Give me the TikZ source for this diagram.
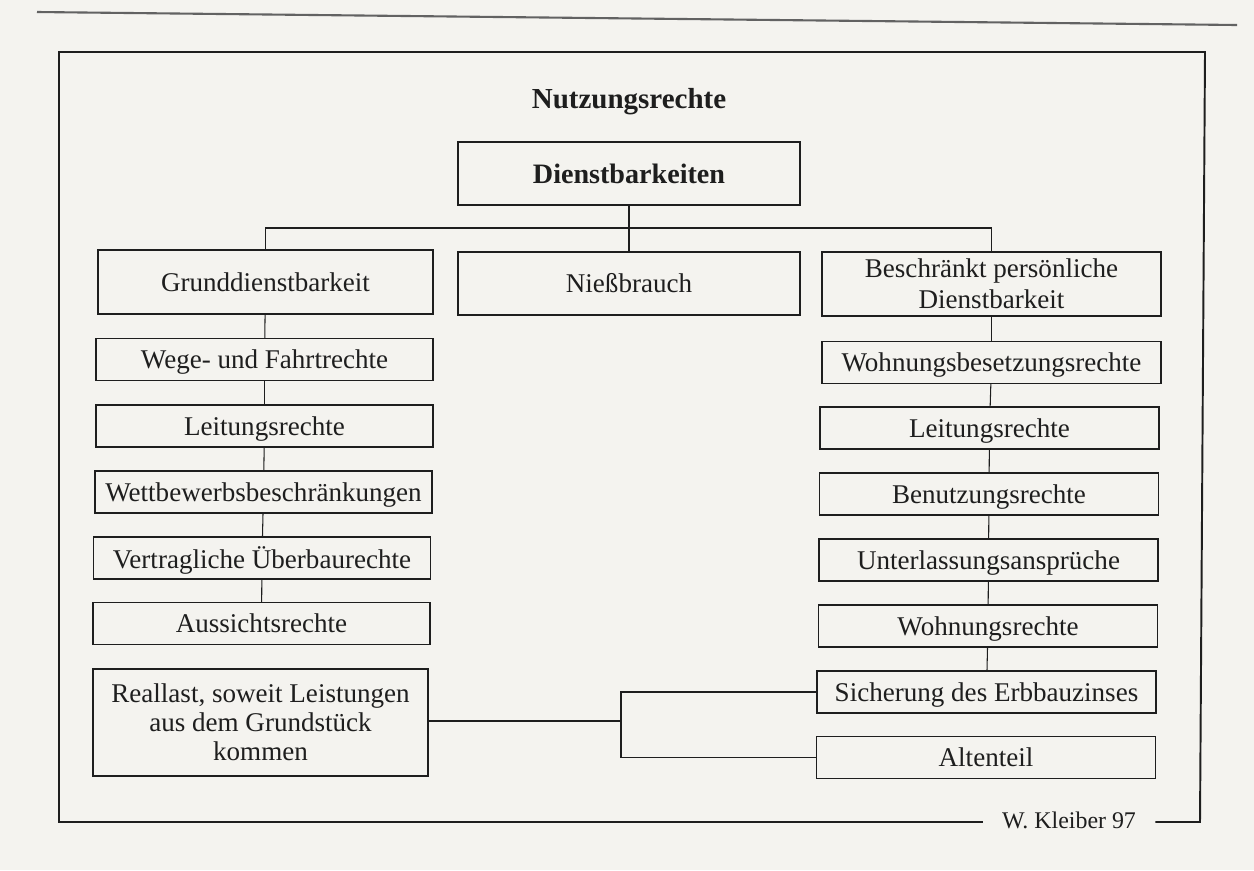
\documentclass[tikz,border=0pt]{standalone}
\usepackage{fontspec}
\setmainfont{Liberation Serif}
\usetikzlibrary{positioning,calc}
\definecolor{paper}{HTML}{F4F3EF}
\definecolor{ink}{HTML}{1E1E1E}

\begin{document}
\begin{tikzpicture}[
  x=0.02cm, y=-0.02cm,
  font=\fontsize{15.4}{17.5}\selectfont,
  box/.style={draw=ink,line width=0.8pt,inner sep=0pt,align=center,text=ink},
  heavy/.style={box,line width=1.5pt},
  lcol/.style={box,minimum width=6.74cm,minimum height=0.84cm,text depth=0pt},
  rcol/.style={box,minimum width=6.78cm,minimum height=0.84cm,text depth=0pt},
  link/.style={draw=ink,line width=0.6pt},
  frame/.style={draw=ink,line width=1.1pt},
]
  \fill[paper] (0,0) rectangle (1254,870);
  \useasboundingbox (0,0) rectangle (1254,870);
  % ---------------- rahmen ----------------
  \draw[gray!70!ink,line width=1.2pt] (37,12) -- (1237,25);
  \node[text=ink,inner xsep=0.38cm,font=\fontsize{13.6}{16}\selectfont] (sig) at (1069,820) {W. Kleiber 97};
  \draw[frame] (sig.west |- 0,822) -- (59,822) -- (59,52) -- (1205,52) -- (1200,822) -- (sig.east |- 0,822);
  % ---------------- kopf ----------------
  \node[text=ink,font=\fontsize{16.5}{20}\selectfont\bfseries] (title) at (629,102) {Nutzungsrechte};
  \node[heavy,minimum width=6.84cm,minimum height=1.26cm,font=\fontsize{16}{19}\selectfont\bfseries] (dienst) at (629,173.5) {Dienstbarkeiten};
  \node[box,minimum width=6.7cm,minimum height=1.28cm] (grund) at (265.5,282) {Grunddienstbarkeit};
  \node[heavy,minimum width=6.84cm,minimum height=1.26cm] (niess) at (629,283.5) {Nießbrauch};
  \node[box,minimum width=6.78cm,minimum height=1.28cm] (beschr) at (991.5,284) {Beschränkt persönliche\\Dienstbarkeit};
  \coordinate (bar) at (629,228);
  \draw[link] (dienst) -- (niess);
  \draw[link] (grund.north) |- (bar) -| (beschr.north);
  % ---------------- links ----------------
  \node[lcol] (wege) at (264.5,359.5) {Wege- und Fahrtrechte};
  \node[lcol] (leitl) at (264.5,426) {Leitungsrechte};
  \node[lcol] (wett) at (263.5,492) {Wettbewerbsbeschränkungen};
  \node[lcol] (vertr) at (262,558) {Vertragliche Überbaurechte};
  \node[lcol] (aus) at (261.5,623.5) {Aussichtsrechte};
  \node[heavy,minimum width=6.7cm,minimum height=2.14cm,font=\fontsize{15.4}{16.5}\selectfont] (real) at (260.5,722.5) {Reallast, soweit Leistungen\\aus dem Grundstück\\kommen};
  \draw[link] (grund) -- (wege);
  \draw[link] (wege) -- (leitl);
  \draw[link] (leitl) -- (wett);
  \draw[link] (wett) -- (vertr);
  \draw[link] (vertr) -- (aus);
  % ---------------- rechts ----------------
  \node[rcol] (wohnbes) at (991.5,362.5) {Wohnungsbesetzungsrechte};
  \node[rcol] (leitr) at (989.5,428) {Leitungsrechte};
  \node[rcol] (benutz) at (989,494) {Benutzungsrechte};
  \node[rcol] (unterl) at (988.5,560) {Unterlassungsansprüche};
  \node[rcol] (wohnr) at (988,626) {Wohnungsrechte};
  \node[rcol] (erbbau) at (986.5,692) {Sicherung des Erbbauzinses};
  \node[rcol] (alten) at (986,757.5) {Altenteil};
  \draw[link] (beschr) -- (wohnbes);
  \draw[link] (wohnbes) -- (leitr);
  \draw[link] (leitr) -- (benutz);
  \draw[link] (benutz) -- (unterl);
  \draw[link] (unterl) -- (wohnr);
  \draw[link] (wohnr) -- (erbbau);
  % gabel zur reallast
  \coordinate (fork) at (621,721);
  \draw[link] (real.east |- fork) -- (fork);
  \draw[link] (erbbau.west) -| (fork) |- (alten.west);
\end{tikzpicture}
\end{document}
